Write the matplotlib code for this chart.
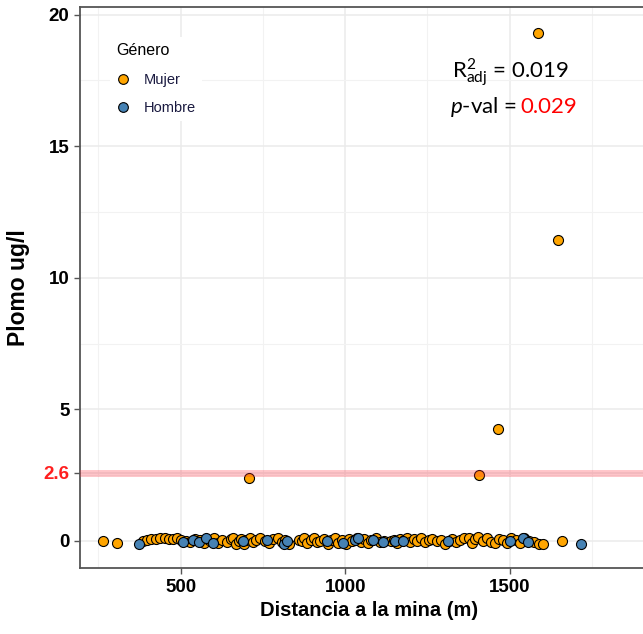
import numpy as np
import matplotlib
matplotlib.use("Agg")
import matplotlib.pyplot as plt
from matplotlib.lines import Line2D
from matplotlib.ticker import MultipleLocator

# lead in blood vs distance to the mine, coloured by gender

mujer_x = [265, 307,
           385, 398, 410, 425, 438, 452, 465, 478, 490, 502,
           515, 528, 545, 560, 572, 585, 600, 612, 625, 640,
           652, 660, 668, 676, 684, 692, 700, 710, 720, 730,
           742, 755, 768, 780, 795, 808, 818, 828,
           860, 868, 876, 885, 895, 905, 915, 925, 935, 948,
           958, 968, 978, 990, 1002, 1012, 1022, 1035, 1048, 1058,
           1068, 1080, 1095, 1105, 1118,
           1140, 1148, 1158, 1168, 1178, 1188, 1198, 1208, 1218, 1230,
           1242, 1255, 1265, 1278, 1290, 1302, 1315, 1325, 1338, 1350,
           1362, 1375, 1385, 1395, 1405, 1418, 1430, 1442, 1455, 1468,
           1480, 1492, 1505, 1518, 1530, 1545, 1560, 1575, 1588, 1600,
           1658,
           708, 1407, 1464, 1647, 1586]
mujer_y = [0.0, -0.09,
           -0.02, 0.05, 0.08, 0.06, 0.1, 0.1, 0.08, 0.06, 0.1, 0.04,
           0.0, -0.05, 0.08, 0.02, -0.08, 0.05, 0.1, -0.06, 0.03, -0.04,
           0.08, 0.12, -0.1, 0.0, 0.06, -0.12, 0.02, 0.1, -0.05, 0.04,
           0.12, 0.0, -0.08, 0.06, 0.1, -0.03, 0.05, -0.1,
           0.05, -0.02, 0.1, -0.08, 0.04, 0.12, -0.05, 0.0, 0.08, -0.1,
           0.03, 0.1, -0.06, 0.05, -0.12, 0.08, 0.0, 0.1, -0.04, 0.06,
           -0.08, 0.02, 0.1, -0.05, 0.0,
           0.0, 0.05, -0.06, 0.08, 0.02, 0.1, -0.04, 0.06, 0.0, 0.1,
           -0.05, 0.03, 0.08, -0.02, 0.05, -0.1, 0.0, 0.06, -0.05, 0.04,
           0.1, 0.12, -0.06, 0.08, 0.15, 0.0, 0.1, -0.05, -0.08, 0.06,
           0.02, -0.06, 0.1, 0.04, -0.08, 0.12, 0.0, -0.05, -0.1, -0.12,
           0.0,
           2.38, 2.52, 4.26, 11.45, 19.3]

hombre_x = [374, 508, 538, 557, 577, 599, 690, 761, 814, 822, 944, 994,
            1030, 1040, 1085, 1116, 1151, 1177, 1313, 1501, 1541, 1556, 1716]
hombre_y = [-0.1, -0.05, 0.05, -0.05, 0.1, -0.08, 0.0, 0.05, -0.1, 0.0, 0.0, -0.08,
            0.05, 0.1, 0.05, -0.05, 0.0, 0.0, -0.02, 0.0, 0.1, -0.05, -0.1]

umbral = 2.6
r2_adj = "0.019"
p_val = "0.029"

c_mujer = "#FFA500"
c_hombre = "#4682B4"

plt.rcParams['font.family'] = ['Liberation Sans', 'DejaVu Sans']

W, H = 643, 634
fig = plt.figure(figsize=(W / 100, H / 100), dpi=100)
ax = fig.add_axes([80 / W, 65.7 / H, 0.9, 561.6 / H])

ax.set_xlim(194, 1953)
ax.set_ylim(-1.04, 20.3)

ax.xaxis.set_major_locator(MultipleLocator(500))
ax.xaxis.set_minor_locator(MultipleLocator(250))
ax.set_yticks([0, umbral, 5, 10, 15, 20])
ax.set_yticklabels(["0", "2.6", "5", "10", "15", "20"])
ax.yaxis.set_minor_locator(MultipleLocator(2.5))

ax.grid(which='major', color='#EBEBEB', linewidth=1.1, zorder=0)
ax.grid(which='minor', color='#F2F2F2', linewidth=0.8, zorder=0)
ax.set_axisbelow(True)

for s in ax.spines.values():
    s.set_color('#555555')
    s.set_linewidth(1.3)

ax.tick_params(which='major', length=4, width=1, color='#555555',
               labelsize=13.5, labelcolor='black')
ax.tick_params(which='minor', length=0)
for lab in ax.get_xticklabels() + ax.get_yticklabels():
    lab.set_fontweight('bold')
ytl = ax.get_yticklabels()
ytl[1].set_color('#FF2020')
ax.yaxis.get_major_ticks()[1].tick1line.set_color('#F4A0A8')

ax.scatter(mujer_x, mujer_y, s=52, c=c_mujer, edgecolors='black', linewidths=0.8, zorder=3)
ax.scatter(hombre_x, hombre_y, s=52, c=c_hombre, edgecolors='black', linewidths=0.8, zorder=3)

ax.axhline(umbral, color='#FF3040', alpha=0.28, linewidth=5, zorder=4)

ax.set_xlabel("Distancia a la mina (m)", fontsize=14.5, fontweight='bold', labelpad=4)
ax.set_ylabel("Plomo ug/l", fontsize=16.5, fontweight='bold', labelpad=10)

handles = [Line2D([], [], marker='o', linestyle='', markersize=7, markerfacecolor=c_mujer,
                  markeredgecolor='black', markeredgewidth=0.8),
           Line2D([], [], marker='o', linestyle='', markersize=7, markerfacecolor=c_hombre,
                  markeredgecolor='black', markeredgewidth=0.8)]
leg = fig.legend(handles, ["Mujer", "Hombre"], title="Género", loc='upper left',
                 bbox_to_anchor=(103 / W, 1 - 30 / H), frameon=True, fontsize=10.5,
                 title_fontsize=11.5, labelspacing=1.0, handlelength=1.0,
                 handletextpad=0.9, borderpad=0.4, alignment='left')
leg.get_frame().set_edgecolor('none')
leg.get_frame().set_facecolor('white')
leg.get_frame().set_alpha(1)
for t in leg.get_texts():
    t.set_color('#1a1a40')

plt.rcParams['mathtext.fontset'] = 'custom'
plt.rcParams['mathtext.rm'] = 'Lato'
plt.rcParams['mathtext.it'] = 'Lato:italic'
fig.text(510 / W, 1 - 73 / H, r"R$^{2}_{\mathrm{adj}}$ = " + r2_adj, ha='center', va='center',
         fontsize=16, family='Lato')
fig.text(518 / W, 1 - 107 / H, r"$\mathit{p}$-val = ", ha='right', va='center',
         fontsize=16, family='Lato')
fig.text(520 / W, 1 - 107 / H, p_val, ha='left', va='center', fontsize=16,
         family='Lato', color='red')

fig.savefig("out.png", dpi=100)
